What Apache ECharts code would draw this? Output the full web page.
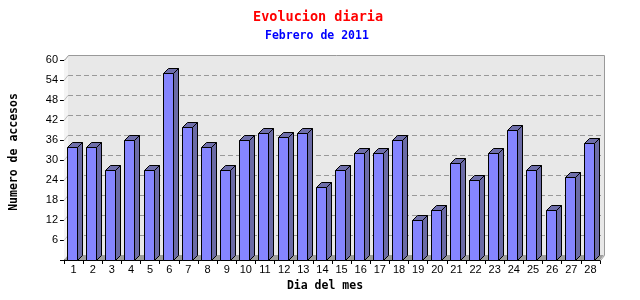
<!DOCTYPE html>
<html>
<head>
<meta charset="utf-8">
<script src="https://cdn.jsdelivr.net/npm/echarts@6/dist/echarts.min.js"></script>
<style>html,body{margin:0;padding:0;background:#fff}#c{width:640px;height:300px}</style>
</head>
<body>
<div id="c"></div>
<script>
const days = ['1','2','3','4','5','6','7','8','9','10','11','12','13','14','15','16','17','18','19','20','21','22','23','24','25','26','27','28'];
const accesos = [34,34,27,36,27,56,40,34,27,36,38,37,38,22,27,32,32,36,12,15,29,24,32,39,27,15,25,35];
const yTicks = [6,12,18,24,30,36,42,48,54];
const titleText = 'Evolucion diaria';
const subText = 'Febrero de 2011';
const yName = 'Numero de accesos';
const xName = 'Dia del mes';

const WDX = 4, WDY = 5, BD = 5;
const chart = echarts.init(document.getElementById('c'), null, {renderer: 'canvas'});

function wallItem(params, api) {
  const cs = params.coordSys;
  const x0 = cs.x, y0 = cs.y, w = cs.width, h = cs.height;
  const children = [];
  children.push({type:'polygon', shape:{points:[[x0,y0+h],[x0,y0],[x0+WDX,y0-WDY],[x0+WDX,y0+h-WDY]]}, style:{fill:'#f4f4f4'}});
  children.push({type:'rect', shape:{x:x0+WDX, y:y0-WDY, width:w, height:h}, style:{fill:'#e8e8e8'}});
  children.push({type:'polygon', shape:{points:[[x0,y0+h],[x0+WDX,y0+h-WDY],[x0+w+WDX,y0+h-WDY],[x0+w,y0+h]]}, style:{fill:'#9e9e9e'}});
  yTicks.forEach(v => {
    const yy = Math.round(api.coord([0, v])[1]) + 0.5;
    children.push({type:'line', shape:{x1:x0+WDX, y1:yy-WDY, x2:x0+w+WDX, y2:yy-WDY}, style:{stroke:'#999', lineWidth:1, lineDash:[5,3]}});
    children.push({type:'line', shape:{x1:x0, y1:yy, x2:x0+WDX, y2:yy-WDY}, style:{stroke:'#bbb', lineWidth:1}});
  });
  const xl = Math.round(x0+WDX)+0.5, xr = Math.round(x0+w+WDX)+0.5, yt = Math.round(y0-WDY)+0.5, yb = Math.round(y0+h-WDY)+0.5;
  children.push({type:'polyline', shape:{points:[[Math.round(x0)+0.5, Math.round(y0)+0.5],[xl,yt],[xr,yt],[xr,yb],[Math.round(x0+w)+0.5, Math.round(y0+h)+0.5]]}, style:{stroke:'#999', lineWidth:1, fill:null}});
  return {type:'group', children};
}

function barItem(params, api) {
  const idx = api.value(0), val = api.value(1);
  const top = api.coord([idx, val]);
  const base = api.coord([idx, 0]);
  const band = api.size([1, 0])[0];
  const bs = top[0] - band/2;
  const xl = Math.round(bs + band*0.16) + 0.5;
  const xr = Math.round(bs + band*0.68) + 0.5;
  const yt = Math.round(top[1]) + 0.5;
  const yb = Math.round(base[1]) + 0.5;
  const st = {stroke:'#000', lineWidth:1};
  return {type:'group', children:[
    {type:'polygon', shape:{points:[[xr,yt],[xr+BD,yt-BD],[xr+BD,yb-BD],[xr,yb]]}, style:Object.assign({fill:'#6b6ba6'}, st)},
    {type:'polygon', shape:{points:[[xl,yt],[xl+BD,yt-BD],[xr+BD,yt-BD],[xr,yt]]}, style:Object.assign({fill:'#6e6eaa'}, st)},
    {type:'rect', shape:{x:xl, y:yt, width:xr-xl, height:yb-yt}, style:Object.assign({fill:'#8585ff'}, st)}
  ]};
}

chart.setOption({
  animation: false,
  backgroundColor: '#fff',
  title: [
    {text: titleText, left: 248, top: 5, textStyle:{color:'#ff0000', fontFamily:'DejaVu Sans Mono', fontWeight:'bold', fontSize:13.5}},
    {text: subText, left: 260, top: 25, textStyle:{color:'#0000ff', fontFamily:'DejaVu Sans Mono', fontWeight:'bold', fontSize:11.5}}
  ],
  grid: {left: 61, right: 40, top: 60, bottom: 40, containLabel: false},
  xAxis: {
    type: 'category', data: days,
    axisLine: {show:true, lineStyle:{color:'#000', width:1}},
    axisTick: {show:true, length:4, lineStyle:{color:'#000'}},
    axisLabel: {color:'#000', fontFamily:'Liberation Sans', fontSize:11, margin:4, interval:0},
    name: xName, nameLocation:'middle', nameGap: 19,
    nameTextStyle: {color:'#000', fontFamily:'DejaVu Sans Mono', fontWeight:'bold', fontSize:11.5, padding:[0,14,0,0]}
  },
  yAxis: {
    type: 'value', min: 0, max: 60, interval: 6,
    axisLine: {show:true, lineStyle:{color:'#000', width:1}},
    axisTick: {show:true, length:4, lineStyle:{color:'#000'}},
    splitLine: {show:false},
    axisLabel: {color:'#000', fontFamily:'Liberation Sans', fontSize:11, margin:6, padding:[4,0,0,0], formatter: v => v === 0 ? '' : String(v)},
    name: yName, nameLocation:'middle', nameGap: 44, nameRotate: 90,
    nameTextStyle: {color:'#000', fontFamily:'DejaVu Sans Mono', fontWeight:'bold', fontSize:11.5, padding:[0,0,0,16]}
  },
  series: [
    {type:'custom', renderItem: wallItem, data:[[0,0]], z:1, silent:true, clip:false},
    {type:'custom', renderItem: barItem, data: accesos.map((v,i)=>[i,v]), z:2, clip:false, encode:{x:0,y:1}}
  ]
});
</script>
</body>
</html>
